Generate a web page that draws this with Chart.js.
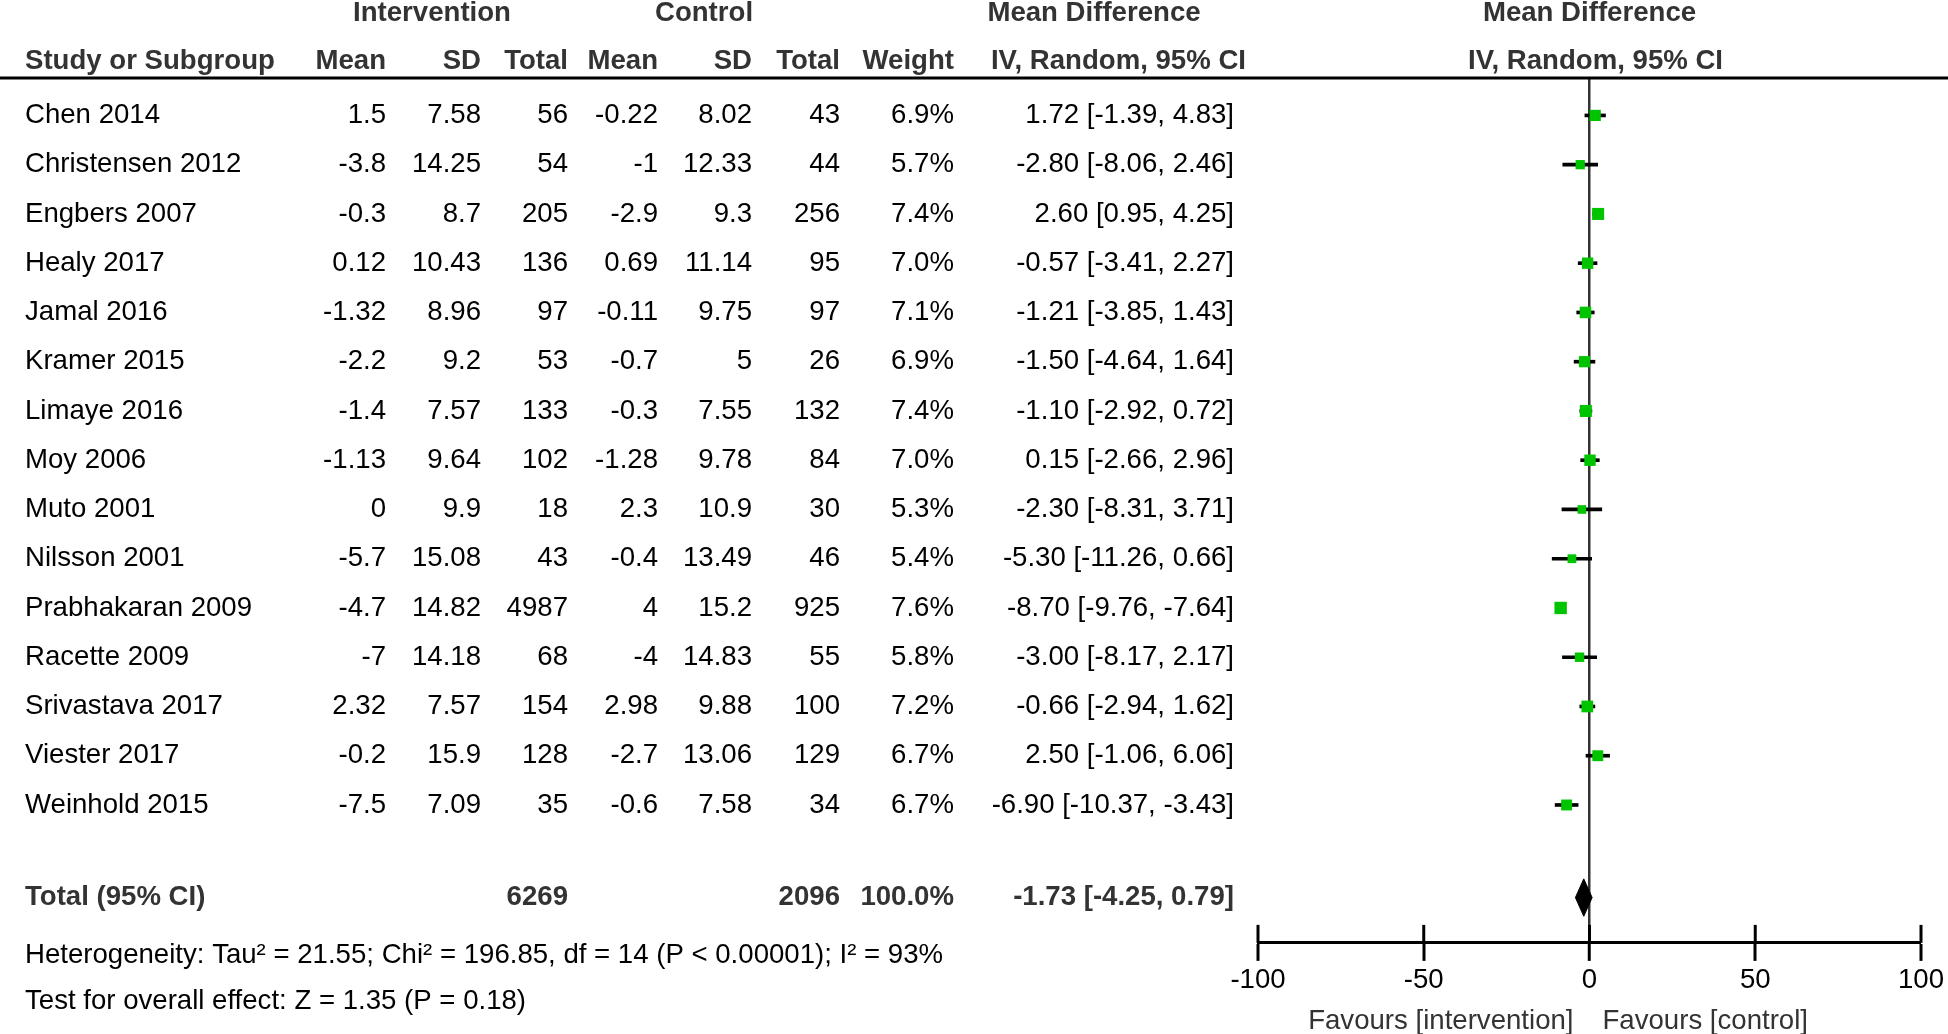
<!DOCTYPE html>
<html>
<head>
<meta charset="utf-8">
<script src="https://cdn.jsdelivr.net/npm/chart.js@4.4.1/dist/chart.umd.min.js"></script>
<style>
  html, body { margin: 0; padding: 0; background: #fff; }
</style>
</head>
<body>
<canvas id="forest" width="1948" height="1034"></canvas>
<script>
// ── data ──
const studies   = ['Chen 2014', 'Christensen 2012', 'Engbers 2007', 'Healy 2017', 'Jamal 2016',
                   'Kramer 2015', 'Limaye 2016', 'Moy 2006', 'Muto 2001', 'Nilsson 2001',
                   'Prabhakaran 2009', 'Racette 2009', 'Srivastava 2017', 'Viester 2017', 'Weinhold 2015'];
const intMean   = [1.5, -3.8, -0.3, 0.12, -1.32, -2.2, -1.4, -1.13, 0, -5.7, -4.7, -7, 2.32, -0.2, -7.5];
const intSD     = [7.58, 14.25, 8.7, 10.43, 8.96, 9.2, 7.57, 9.64, 9.9, 15.08, 14.82, 14.18, 7.57, 15.9, 7.09];
const intTotal  = [56, 54, 205, 136, 97, 53, 133, 102, 18, 43, 4987, 68, 154, 128, 35];
const ctlMean   = [-0.22, -1, -2.9, 0.69, -0.11, -0.7, -0.3, -1.28, 2.3, -0.4, 4, -4, 2.98, -2.7, -0.6];
const ctlSD     = [8.02, 12.33, 9.3, 11.14, 9.75, 5, 7.55, 9.78, 10.9, 13.49, 15.2, 14.83, 9.88, 13.06, 7.58];
const ctlTotal  = [43, 44, 256, 95, 97, 26, 132, 84, 30, 46, 925, 55, 100, 129, 34];
const weights   = [6.9, 5.7, 7.4, 7.0, 7.1, 6.9, 7.4, 7.0, 5.3, 5.4, 7.6, 5.8, 7.2, 6.7, 6.7];
const meanDiff  = [1.72, -2.80, 2.60, -0.57, -1.21, -1.50, -1.10, 0.15, -2.30, -5.30, -8.70, -3.00, -0.66, 2.50, -6.90];
const ciLow     = [-1.39, -8.06, 0.95, -3.41, -3.85, -4.64, -2.92, -2.66, -8.31, -11.26, -9.76, -8.17, -2.94, -1.06, -10.37];
const ciHigh    = [4.83, 2.46, 4.25, 2.27, 1.43, 1.64, 0.72, 2.96, 3.71, 0.66, -7.64, 2.17, 1.62, 6.06, -3.43];

const totalN    = [6269, 2096];            // intervention, control
const totalMD   = [-1.73, -4.25, 0.79];    // estimate, low, high
const xTicks    = [-100, -50, 0, 50, 100];

const heteroText = 'Heterogeneity: Tau² = 21.55; Chi² = 196.85, df = 14 (P < 0.00001); I² = 93%';
const effectText = 'Test for overall effect: Z = 1.35 (P = 0.18)';

// ── layout ──
const FONT      = '"Liberation Sans", Arial, sans-serif';
const FSIZE     = 27.6;
const TOTAL_ROW = 15.88;
const DIAMOND_H = 0.38;
const COL = { study: 25, intMean: 386, intSD: 481, intTotal: 568, ctlMean: 658,
              ctlSD: 752, ctlTotal: 840, weight: 954, ci: 1234 };

function txt(ctx, s, x, y, align, bold, color) {
  ctx.font = (bold ? 'bold ' : '') + FSIZE + 'px ' + FONT;
  ctx.textAlign = align;
  ctx.fillStyle = color || '#000';
  ctx.fillText(s, x, y);
}

const fmtCI = (m, l, h) => `${m.toFixed(2)} [${l.toFixed(2)}, ${h.toFixed(2)}]`;

const tablePlugin = {
  id: 'forestTable',
  beforeDatasetsDraw(chart) {
    const ctx = chart.ctx, xs = chart.scales.x, area = chart.chartArea;
    ctx.save();
    // rule under the headers
    ctx.strokeStyle = '#000';
    ctx.lineWidth = 3;
    ctx.beginPath();
    ctx.moveTo(0, area.top);
    ctx.lineTo(chart.width, area.top);
    ctx.stroke();
    // upper half of the axis ticks
    xs.ticks.forEach(t => {
      const px = xs.getPixelForValue(t.value);
      ctx.beginPath();
      ctx.moveTo(px, area.bottom - 18);
      ctx.lineTo(px, area.bottom);
      ctx.stroke();
    });
    ctx.restore();
  },
  afterDraw(chart) {
    const ctx = chart.ctx, ys = chart.scales.y, xs = chart.scales.x;
    const HEAD = '#333';
    ctx.save();
    ctx.textBaseline = 'middle';

    // headers
    txt(ctx, 'Intervention', 432, 13, 'center', true, HEAD);
    txt(ctx, 'Control', 704, 13, 'center', true, HEAD);
    txt(ctx, 'Mean Difference', 1094, 13, 'center', true, HEAD);
    txt(ctx, 'Mean Difference', xs.getPixelForValue(0), 13, 'center', true, HEAD);
    const h2 = 61;
    txt(ctx, 'Study or Subgroup', COL.study, h2, 'left', true, HEAD);
    txt(ctx, 'Mean', COL.intMean, h2, 'right', true, HEAD);
    txt(ctx, 'SD', COL.intSD, h2, 'right', true, HEAD);
    txt(ctx, 'Total', COL.intTotal, h2, 'right', true, HEAD);
    txt(ctx, 'Mean', COL.ctlMean, h2, 'right', true, HEAD);
    txt(ctx, 'SD', COL.ctlSD, h2, 'right', true, HEAD);
    txt(ctx, 'Total', COL.ctlTotal, h2, 'right', true, HEAD);
    txt(ctx, 'Weight', COL.weight, h2, 'right', true, HEAD);
    txt(ctx, 'IV, Random, 95% CI', 1246, h2, 'right', true, HEAD);
    txt(ctx, 'IV, Random, 95% CI', xs.getPixelForValue(0) + 6, h2, 'center', true, HEAD);

    // study rows
    studies.forEach((s, i) => {
      const py = ys.getPixelForValue(i);
      txt(ctx, s, COL.study, py, 'left');
      txt(ctx, String(intMean[i]), COL.intMean, py, 'right');
      txt(ctx, String(intSD[i]), COL.intSD, py, 'right');
      txt(ctx, String(intTotal[i]), COL.intTotal, py, 'right');
      txt(ctx, String(ctlMean[i]), COL.ctlMean, py, 'right');
      txt(ctx, String(ctlSD[i]), COL.ctlSD, py, 'right');
      txt(ctx, String(ctlTotal[i]), COL.ctlTotal, py, 'right');
      txt(ctx, weights[i].toFixed(1) + '%', COL.weight, py, 'right');
      txt(ctx, fmtCI(meanDiff[i], ciLow[i], ciHigh[i]), COL.ci, py, 'right');
    });

    // total row
    const ty = ys.getPixelForValue(TOTAL_ROW);
    txt(ctx, 'Total (95% CI)', COL.study, ty, 'left', true, HEAD);
    txt(ctx, String(totalN[0]), COL.intTotal, ty, 'right', true, HEAD);
    txt(ctx, String(totalN[1]), COL.ctlTotal, ty, 'right', true, HEAD);
    txt(ctx, '100.0%', COL.weight, ty, 'right', true, HEAD);
    txt(ctx, fmtCI(totalMD[0], totalMD[1], totalMD[2]), COL.ci, ty, 'right', true, HEAD);

    txt(ctx, heteroText, COL.study, 955, 'left');
    txt(ctx, effectText, COL.study, 1001, 'left');

    // favours labels
    const x0 = xs.getPixelForValue(0);
    txt(ctx, 'Favours [intervention]', x0 - 16, 1021, 'right', false, '#333');
    txt(ctx, 'Favours [control]', x0 + 13, 1021, 'left', false, '#333');
    ctx.restore();
  }
};

const pointData = studies.map((_, i) => ({ x: meanDiff[i], y: i }));
const ciData    = studies.map((_, i) => ({ x: [ciLow[i], ciHigh[i]], y: i }));
const diamond   = [
  { x: totalMD[1], y: TOTAL_ROW },
  { x: totalMD[0], y: TOTAL_ROW - DIAMOND_H },
  { x: totalMD[2], y: TOTAL_ROW },
  { x: totalMD[0], y: TOTAL_ROW + DIAMOND_H },
  { x: totalMD[1], y: TOTAL_ROW },
];

new Chart(document.getElementById('forest'), {
  type: 'scatter',
  data: {
    datasets: [
      {
        label: 'Mean difference',
        data: pointData,
        pointStyle: 'rect',
        pointRadius: weights.map(w => w * 1.15),
        backgroundColor: '#00c400',
        borderWidth: 0,
        order: 0,
      },
      {
        type: 'bar',
        label: '95% CI',
        data: ciData,
        indexAxis: 'y',
        backgroundColor: '#000',
        barThickness: 3,
        borderWidth: 0,
        order: 1,
      },
      {
        label: 'Total',
        data: diamond,
        showLine: true,
        fill: 'shape',
        backgroundColor: '#000',
        borderColor: '#000',
        borderWidth: 1,
        pointRadius: 0,
        tension: 0,
        order: 2,
      },
    ],
  },
  options: {
    responsive: false,
    devicePixelRatio: 1,
    animation: false,
    layout: { padding: { left: 1258, right: 27, top: 78, bottom: 34 } },
    plugins: { legend: { display: false }, tooltip: { enabled: false } },
    scales: {
      x: {
        type: 'linear',
        min: -100, max: 100,
        offset: false,
        afterBuildTicks: axis => { axis.ticks = xTicks.map(v => ({ value: v })); },
        border: { display: true, color: '#000', width: 3 },
        grid: {
          offset: false,
          drawOnChartArea: true,
          color: c => (c.tick && c.tick.value === 0) ? '#333' : 'rgba(0,0,0,0)',
          lineWidth: c => (c.tick && c.tick.value === 0) ? 2.5 : 0,
          tickColor: '#000',
          tickWidth: 3,
          tickLength: 18,
        },
        ticks: { color: '#000', padding: 3, font: { size: 27.6, family: FONT } },
      },
      y: {
        type: 'linear',
        min: -0.76, max: 16.8,
        reverse: true,
        offset: false,
        grid: { offset: false },
        display: false,
      },
    },
  },
  plugins: [tablePlugin],
});
</script>
</body>
</html>
